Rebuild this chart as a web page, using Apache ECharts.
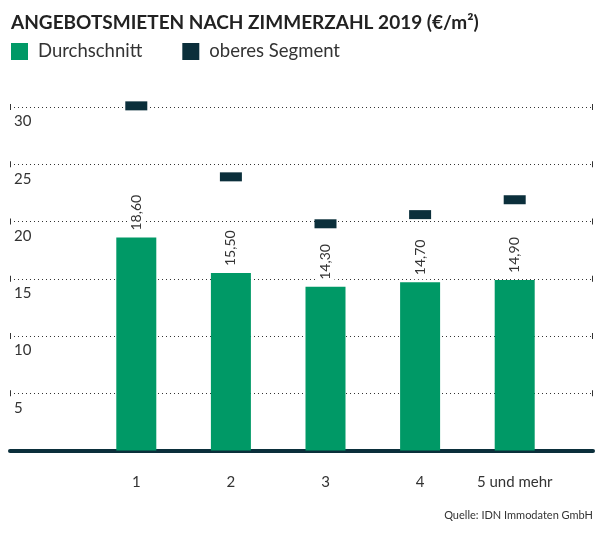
<!DOCTYPE html>
<html>
<head>
<meta charset="utf-8">
<script src="https://cdn.jsdelivr.net/npm/echarts@6/dist/echarts.min.js"></script>
<style>
  html, body { margin: 0; padding: 0; background: #fff; }
  #main { width: 600px; height: 538px; }
</style>
</head>
<body>
<div id="main"></div>
<script>
var categories = ['1', '2', '3', '4', '5 und mehr'];
var durchschnitt = [18.6, 15.5, 14.3, 14.7, 14.9];
var oberesSegment = [30.1, 23.9, 19.8, 20.6, 21.9];
var yTicks = [0, 5, 10, 15, 20, 25, 30];

var green = '#009966';
var dark = '#0b2f3b';
var textColor = '#333';
var font = 'Lato, sans-serif';

var chart = echarts.init(document.getElementById('main'));

// small vertical caps at both ends of every grid line
function renderCaps(params, api) {
  var cs = params.coordSys;
  var y = api.coord([0, api.value(0)])[1];
  var style = { stroke: '#333', lineWidth: 1 };
  return {
    type: 'group',
    children: [
      { type: 'line', shape: { x1: cs.x + 0.5, y1: y - 3, x2: cs.x + 0.5, y2: y + 3 }, style: style },
      { type: 'line', shape: { x1: cs.x + cs.width - 0.5, y1: y - 3, x2: cs.x + cs.width - 0.5, y2: y + 3 }, style: style }
    ]
  };
}

chart.setOption({
  backgroundColor: '#fff',
  textStyle: { fontFamily: font, color: textColor },
  title: [{
    text: 'ANGEBOTSMIETEN NACH ZIMMERZAHL 2019 (€/m²)',
    left: 6,
    top: 8,
    textStyle: { fontSize: 19, fontWeight: 'bold', color: '#222', fontFamily: font }
  }, {
    text: 'Quelle: IDN Immodaten GmbH',
    right: 2,
    top: 505,
    textStyle: { fontSize: 11, fontWeight: 'normal', color: textColor, fontFamily: font }
  }],
  legend: {
    left: 6,
    top: 37,
    icon: 'rect',
    itemWidth: 17,
    itemHeight: 17,
    itemGap: 40,
    textStyle: { fontSize: 18.5, color: textColor, fontFamily: font, padding: [0, 0, 0, 5] },
    data: [
      { name: 'Durchschnitt', itemStyle: { color: green, opacity: 1 } },
      { name: 'oberes Segment', itemStyle: { color: dark, opacity: 1 } }
    ]
  },
  grid: [
    { left: 10, right: 7, top: 107, bottom: 87.5 },
    { left: 89, right: 38, top: 107, bottom: 87.5 }
  ],
  xAxis: [{
    gridIndex: 0,
    type: 'category',
    data: [''],
    axisLine: { show: true, lineStyle: { color: dark, width: 4 } },
    axisTick: { show: false },
    axisLabel: { show: false },
    splitLine: { show: false }
  }, {
    gridIndex: 1,
    type: 'category',
    data: categories,
    axisLine: { show: false },
    axisTick: { show: false },
    axisLabel: { interval: 0, margin: 24, fontSize: 15, color: textColor, fontFamily: font }
  }],
  yAxis: [{
    gridIndex: 0,
    type: 'value',
    min: yTicks[0],
    max: yTicks[yTicks.length - 1],
    interval: 5,
    axisLine: { show: false },
    axisTick: { show: false },
    axisLabel: {
      inside: true,
      margin: 4,
      verticalAlign: 'top',
      padding: [7, 0, 0, 0],
      fontSize: 15,
      color: textColor,
      fontFamily: font,
      showMinLabel: false
    },
    splitLine: {
      show: true,
      showMinLine: false,
      lineStyle: { color: '#333', width: 1, type: [1, 3] }
    }
  }, {
    gridIndex: 1,
    type: 'value',
    min: yTicks[0],
    max: yTicks[yTicks.length - 1],
    interval: 5,
    show: false
  }],
  series: [{
    name: 'caps',
    type: 'custom',
    xAxisIndex: 0,
    yAxisIndex: 0,
    renderItem: renderCaps,
    silent: true,
    clip: false,
    z: 1,
    data: yTicks.slice(1).map(function (v) { return [v]; }),
    encode: { y: 0 }
  }, {
    name: 'Durchschnitt',
    type: 'bar',
    xAxisIndex: 1,
    yAxisIndex: 1,
    barWidth: 40,
    itemStyle: { color: green },
    label: {
      show: true,
      position: 'top',
      rotate: 90,
      align: 'left',
      verticalAlign: 'middle',
      distance: 3,
      fontSize: 14,
      color: textColor,
      fontFamily: font,
      backgroundColor: '#fff',
      padding: [2, 4],
      formatter: function (p) { return p.value.toFixed(2).replace('.', ','); }
    },
    z: 3,
    data: durchschnitt
  }, {
    name: 'oberes Segment',
    type: 'scatter',
    xAxisIndex: 1,
    yAxisIndex: 1,
    symbol: 'rect',
    symbolSize: [22, 9],
    itemStyle: { color: dark, opacity: 1 },
    clip: false,
    z: 4,
    data: oberesSegment
  }]
});
</script>
</body>
</html>
